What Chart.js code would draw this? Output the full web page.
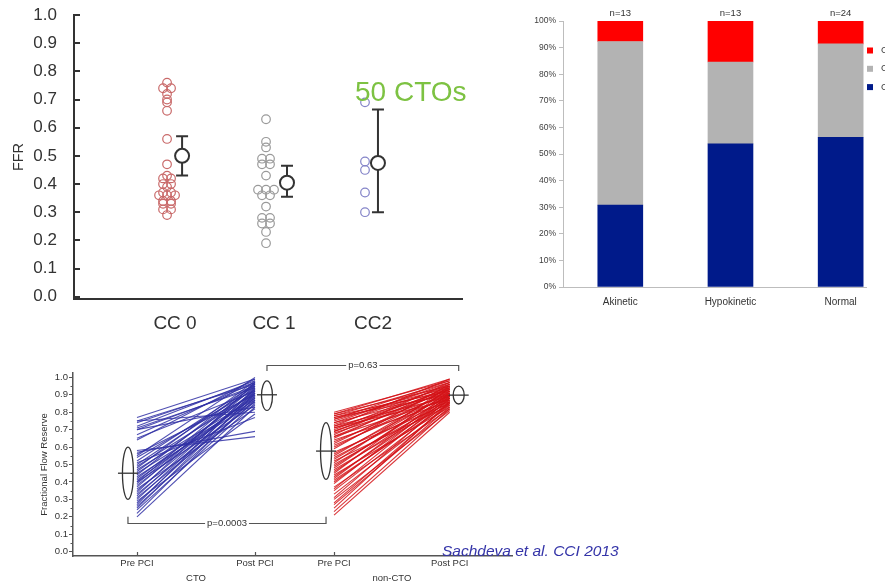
<!DOCTYPE html>
<html>
<head>
<meta charset="utf-8">
<script src="https://cdn.jsdelivr.net/npm/chart.js@4"></script>
<style>
  html, body { margin: 0; padding: 0; background: #fff; }
  body { width: 885px; height: 586px; position: relative; overflow: hidden;
         font-family: "Liberation Sans", Arial, sans-serif; }
  canvas { position: absolute; }
  #ffrChart { left: 0; top: 0; }
  #wallChart { left: 510px; top: 0; }
  #pciChart { left: 0; top: 360px; }
  .note { position: absolute; white-space: nowrap; }
  #ctos { left: 355px; top: 77px; font-size: 28px; line-height: 30px; color: #7dc242; }
  #cite { left: 442px; top: 542px; font-size: 15.5px; line-height: 18px; font-style: italic; color: #3434a8; }
</style>
</head>
<body>
<canvas id="ffrChart" width="480" height="340"></canvas>
<canvas id="wallChart" width="400" height="320"></canvas>
<canvas id="pciChart" width="520" height="226"></canvas>
<div class="note" id="ctos">50 CTOs</div>
<div class="note" id="cite">Sachdeva et al. CCI 2013</div>

<script>
// ---------- FFR by collateral grade ----------
const ffrCategories = ['CC 0', 'CC 1', 'CC2'];
const ffrCC0 = [0.76, 0.74, 0.74, 0.72, 0.70, 0.69, 0.66, 0.56, 0.47, 0.43, 0.42, 0.42, 0.40, 0.40,
                0.39, 0.37, 0.37, 0.36, 0.36, 0.36, 0.34, 0.34, 0.33, 0.33, 0.31, 0.31, 0.29];
const ffrCC1 = [0.63, 0.55, 0.53, 0.49, 0.49, 0.47, 0.47, 0.43, 0.38, 0.38, 0.38, 0.36, 0.36,
                0.32, 0.28, 0.28, 0.26, 0.26, 0.23, 0.19];
const ffrCC2 = [0.69, 0.48, 0.45, 0.37, 0.30];
const ffrMean = [0.50, 0.405, 0.475];
const ffrLow  = [0.43, 0.355, 0.30];
const ffrHigh = [0.57, 0.465, 0.665];
const ffrTicks = [0.0, 0.1, 0.2, 0.3, 0.4, 0.5, 0.6, 0.7, 0.8, 0.9, 1.0];

// ---------- Wall motion vs collateral grade (percent of lesions) ----------
const wallCategories = ['Akinetic', 'Hypokinetic', 'Normal'];
const wallCounts = ['n=13', 'n=13', 'n=24'];
const wallCC0 = [30.8, 53.8, 56.3];
const wallCC1 = [61.5, 30.8, 35.1];
const wallCC2 = [7.7, 15.4, 8.6];
const wallTicks = [0, 10, 20, 30, 40, 50, 60, 70, 80, 90, 100];

// ---------- FFR before and after PCI ----------
const pciColumns = ['Pre PCI', 'Post PCI', 'Pre PCI', 'Post PCI'];
const pciGroups = ['CTO', 'non-CTO'];
const ctoPre  = [0.77, 0.75, 0.75, 0.74, 0.72, 0.71, 0.70, 0.70, 0.67, 0.65, 0.64,
                 0.58, 0.57, 0.56, 0.55, 0.54, 0.52, 0.51, 0.50, 0.49, 0.48,
                 0.47, 0.46, 0.45, 0.44, 0.43, 0.42, 0.41, 0.40, 0.40, 0.39,
                 0.38, 0.37, 0.36, 0.35, 0.34, 0.33, 0.32, 0.31, 0.30, 0.29,
                 0.28, 0.27, 0.26, 0.25, 0.24, 0.22, 0.20];
const ctoPost = [0.99, 0.96, 0.80, 0.97, 0.98, 0.94, 0.83, 0.95, 0.97, 0.92, 0.99,
                 0.66, 0.69, 0.90, 1.00, 0.93, 0.96, 0.77, 0.95, 0.91, 0.98,
                 0.88, 0.94, 0.87, 0.97, 0.86, 0.92, 0.89, 0.96, 0.84, 0.93,
                 0.90, 0.95, 0.82, 0.91, 0.97, 0.88, 0.93, 0.86, 0.92, 0.79,
                 0.90, 0.94, 0.87, 0.91, 0.85, 0.89, 0.83];
const nonCtoPre  = [0.80, 0.79, 0.79, 0.78, 0.78, 0.77, 0.77, 0.76, 0.76, 0.75,
                    0.74, 0.74, 0.73, 0.72, 0.72, 0.71, 0.71, 0.70, 0.69, 0.69,
                    0.68, 0.67, 0.66, 0.66, 0.65, 0.64, 0.63, 0.62, 0.61, 0.60,
                    0.59, 0.57, 0.56, 0.55, 0.54, 0.53, 0.52, 0.51, 0.50, 0.49,
                    0.48, 0.47, 0.46, 0.45, 0.44, 0.43, 0.42, 0.41, 0.40, 0.39,
                    0.37, 0.36, 0.35, 0.33, 0.31, 0.30, 0.28, 0.27, 0.25, 0.23,
                    0.21];
const nonCtoPost = [0.98, 0.95, 0.99, 0.92, 0.97, 0.94, 0.90, 0.98, 0.93, 0.96,
                    0.91, 0.97, 0.95, 0.89, 0.99, 0.93, 0.87, 0.96, 0.92, 0.94,
                    0.90, 0.97, 0.88, 0.93, 0.95, 0.86, 0.91, 0.94, 0.89, 0.92,
                    0.96, 0.85, 0.90, 0.93, 0.88, 0.91, 0.84, 0.95, 0.87, 0.90,
                    0.92, 0.86, 0.89, 0.94, 0.83, 0.88, 0.91, 0.85, 0.87, 0.90,
                    0.82, 0.89, 0.86, 0.84, 0.88, 0.81, 0.85, 0.83, 0.86, 0.82,
                    0.80];
const pciMean = [0.45, 0.90, 0.577, 0.898];
const pciLow  = [0.30, 0.81, 0.415, 0.847];
const pciHigh = [0.60, 0.98, 0.74, 0.95];
const pciTests = [
  { label: 'p=0.0003', from: 0, to: 2 },
  { label: 'p=0.63',   from: 1, to: 3 }
];
const pciTicks = [0.0, 0.1, 0.2, 0.3, 0.4, 0.5, 0.6, 0.7, 0.8, 0.9, 1.0];

// ---------- shared look ----------
const FONT = '"Liberation Sans", Arial, sans-serif';
Chart.defaults.font.family = FONT;
Chart.defaults.animation = false;
Chart.defaults.responsive = false;
Chart.defaults.plugins.legend.display = false;
Chart.defaults.plugins.tooltip.enabled = false;

// ================= Chart 1: FFR dot plot =================
const summaryShift = [0.152, 0.212, 0.131];   // mean marker sits right of the dots

// lay tied values side by side so every circle stays visible
function swarm(values, column, unitPx, gapPx) {
  const sorted = values.slice().sort((a, b) => b - a);
  const out = [];
  let i = 0;
  while (i < sorted.length) {
    let j = i;
    while (j + 1 < sorted.length && Math.abs(sorted[j + 1] - sorted[i]) < 0.005) j++;
    const n = j - i + 1;
    for (let k = 0; k < n; k++) {
      out.push({ x: column + (k - (n - 1) / 2) * gapPx / unitPx, y: sorted[i + k] });
    }
    i = j + 1;
  }
  return out;
}

const ffrGroups = [ffrCC0, ffrCC1, ffrCC2];
const ffrColors = ['#c96a6a', '#9a9a9a', '#8484c8'];

const errorBars = {
  id: 'errorBars',
  beforeDatasetsDraw(chart) {
    const { ctx, scales: { x, y } } = chart;
    ctx.save();
    ctx.strokeStyle = '#333';
    ctx.lineWidth = 2;
    ffrMean.forEach((m, i) => {
      const px = x.getPixelForValue(i + summaryShift[i]);
      const lo = y.getPixelForValue(ffrLow[i]);
      const hi = y.getPixelForValue(ffrHigh[i]);
      ctx.beginPath();
      ctx.moveTo(px, lo); ctx.lineTo(px, hi);
      ctx.moveTo(px - 6, lo); ctx.lineTo(px + 6, lo);
      ctx.moveTo(px - 6, hi); ctx.lineTo(px + 6, hi);
      ctx.stroke();
    });
    ctx.restore();
  }
};

const inwardTicks = {
  id: 'inwardTicks',
  afterDraw(chart) {
    const { ctx, scales: { y }, chartArea } = chart;
    ctx.save();
    ctx.strokeStyle = '#333';
    ctx.lineWidth = 2;
    y.ticks.forEach(t => {
      const py = Math.round(y.getPixelForValue(t.value));
      ctx.beginPath();
      ctx.moveTo(chartArea.left, py);
      ctx.lineTo(chartArea.left + 6, py);
      ctx.stroke();
    });
    ctx.restore();
  }
};

const ffrChart = new Chart(document.getElementById('ffrChart'), {
  type: 'scatter',
  data: {
    datasets: [
      ...ffrGroups.map((g, i) => ({
        label: ffrCategories[i],
        data: g.map(v => ({ x: i, y: v })),
        pointRadius: 4.3,
        pointBorderWidth: 1.2,
        pointBorderColor: ffrColors[i],
        pointBackgroundColor: 'rgba(255,255,255,0)',
        order: 1
      })),
      {
        label: 'mean',
        data: ffrMean.map((m, i) => ({ x: i + summaryShift[i], y: m })),
        pointRadius: 7,
        pointBorderWidth: 2,
        pointBorderColor: '#333',
        pointBackgroundColor: '#fff',
        order: 0
      }
    ]
  },
  options: {
    layout: { padding: { top: 15, right: 18, left: 0, bottom: 0 } },
    scales: {
      x: {
        type: 'linear', min: -0.94, max: 2.98,
        afterBuildTicks: s => { s.ticks = ffrCategories.map((c, i) => ({ value: i })); },
        afterFit: s => { s.height = 41; },
        ticks: { callback: (v, i) => ffrCategories[i], font: { size: 19 }, color: '#333',
                 padding: 13, labelOffset: 8, autoSkip: false, maxRotation: 0 },
        grid: { display: false, drawTicks: false },
        border: { display: true, color: '#333', width: 2 }
      },
      y: {
        min: -0.008, max: 1.0,
        afterBuildTicks: s => { s.ticks = ffrTicks.map(v => ({ value: v })); },
        afterFit: s => { s.width = 74; },
        ticks: { callback: v => v.toFixed(1), font: { size: 17 }, color: '#333', padding: 4 },
        // invisible outer ticks keep the labels clear of the axis
        grid: { display: true, drawOnChartArea: false, drawTicks: true, tickLength: 13, tickColor: 'rgba(0,0,0,0)' },
        border: { display: true, color: '#333', width: 2 },
        title: { display: true, text: 'FFR', font: { size: 14.5 }, color: '#333', padding: { top: 10, bottom: 0 } }
      }
    }
  },
  plugins: [errorBars, inwardTicks]
});

(function spreadDots() {
  const xs = ffrChart.scales.x;
  const unitPx = xs.getPixelForValue(1) - xs.getPixelForValue(0);
  ffrGroups.forEach((g, i) => { ffrChart.data.datasets[i].data = swarm(g, i, unitPx, 8); });
  ffrChart.update('none');
})();

// ================= Chart 2: stacked wall-motion bars =================
const wallColors = ['#001a8a', '#b3b3b3', '#ff0000'];
const wallSeries = [wallCC0, wallCC1, wallCC2];
const wallLabels = ['CC 0', 'CC 1', 'CC 2'];

const countLabels = {
  id: 'countLabels',
  afterDraw(chart) {
    const { ctx, scales: { x }, chartArea } = chart;
    ctx.save();
    ctx.font = '9.5px ' + FONT;
    ctx.fillStyle = '#333';
    ctx.textAlign = 'center';
    ctx.textBaseline = 'middle';
    wallCounts.forEach((t, i) => ctx.fillText(t, x.getPixelForValue(i), chartArea.top - 8));
    ctx.restore();
  }
};

const sideLegend = {
  id: 'sideLegend',
  afterDraw(chart) {
    const { ctx, chartArea } = chart;
    ctx.save();
    ctx.font = '9.5px ' + FONT;
    ctx.textBaseline = 'middle';
    const items = chart.data.datasets.slice().reverse();
    items.forEach((ds, k) => {
      const cy = chartArea.top + 29.5 + k * 18.3;
      const sx = chartArea.right + 1;
      ctx.fillStyle = ds.backgroundColor;
      ctx.fillRect(sx, cy - 3, 6, 6);
      ctx.fillStyle = '#404040';
      ctx.fillText(ds.label, sx + 14, cy);
    });
    ctx.restore();
  }
};

new Chart(document.getElementById('wallChart'), {
  type: 'bar',
  data: {
    datasets: wallSeries.map((s, i) => ({
      label: wallLabels[i],
      data: s.map((v, j) => ({ x: j, y: v })),
      backgroundColor: wallColors[i],
      borderWidth: 0,
      barThickness: 45
    }))
  },
  options: {
    layout: { padding: { top: 21, right: 44, left: 0, bottom: 0 } },
    scales: {
      x: {
        type: 'linear', stacked: true, offset: false, min: -0.52, max: 2.23,
        afterBuildTicks: s => { s.ticks = wallCategories.map((c, i) => ({ value: i })); },
        afterFit: s => { s.height = 33; },
        ticks: { callback: (v, i) => wallCategories[i], font: { size: 10 }, color: '#333',
                 padding: 9, autoSkip: false, maxRotation: 0 },
        grid: { display: false, drawTicks: false },
        border: { display: true, color: '#bdbdbd', width: 1 }
      },
      y: {
        stacked: true, min: 0, max: 100,
        afterBuildTicks: s => { s.ticks = wallTicks.map(v => ({ value: v })); },
        afterFit: s => { s.width = 53; },
        ticks: { callback: v => v + '%', font: { size: 8.5 }, color: '#404040', padding: 3 },
        grid: { drawOnChartArea: false, tickLength: 4, tickColor: '#bdbdbd' },
        border: { display: true, color: '#bdbdbd', width: 1 }
      }
    }
  },
  plugins: [countLabels, sideLegend]
});

// ================= Chart 3: paired pre/post PCI lines =================
const columnX = [0, 1, 1.67, 2.65];          // horizontal place of each column
const markerShift = [-9, 12, -8, 9];         // summary ellipse offset from its column, px

const pairSets = [
  { pre: ctoPre, post: ctoPost, cols: [0, 1], color: 'rgba(48,48,165,0.85)' },
  { pre: nonCtoPre, post: nonCtoPost, cols: [2, 3], color: 'rgba(212,18,22,0.85)' }
];
const pciDatasets = [];
pairSets.forEach(set => {
  set.pre.forEach((v, i) => {
    pciDatasets.push({
      data: [{ x: columnX[set.cols[0]], y: v }, { x: columnX[set.cols[1]], y: set.post[i] }],
      borderColor: set.color,
      borderWidth: 1.1,
      pointRadius: 0,
      fill: false
    });
  });
});

const pciDecor = {
  id: 'pciDecor',
  afterDatasetsDraw(chart) {
    const { ctx, scales: { x, y } } = chart;
    ctx.save();
    // mean ± SD ellipses
    ctx.strokeStyle = '#333';
    ctx.lineWidth = 1.3;
    pciMean.forEach((m, i) => {
      const cx = x.getPixelForValue(columnX[i]) + markerShift[i];
      const top = y.getPixelForValue(pciHigh[i]);
      const bot = y.getPixelForValue(pciLow[i]);
      const my = y.getPixelForValue(m);
      ctx.beginPath();
      ctx.ellipse(cx, (top + bot) / 2, 5.5, (bot - top) / 2, 0, 0, Math.PI * 2);
      ctx.stroke();
      ctx.beginPath();
      ctx.moveTo(cx - 10, my); ctx.lineTo(cx + 10, my);
      ctx.stroke();
    });
    ctx.restore();
  },
  afterDraw(chart) {
    const { ctx, scales: { x, y }, chartArea } = chart;
    ctx.save();
    // minor ticks on the value axis
    ctx.strokeStyle = '#555';
    ctx.lineWidth = 1;
    for (let k = 0; k < pciTicks.length - 1; k++) {
      const py = Math.round((y.getPixelForValue(pciTicks[k]) + y.getPixelForValue(pciTicks[k + 1])) / 2) + 0.5;
      ctx.beginPath(); ctx.moveTo(chartArea.left - 2.5, py); ctx.lineTo(chartArea.left, py); ctx.stroke();
    }
    // inward ticks on the column axis
    ctx.lineWidth = 1.2;
    columnX.forEach(cxv => {
      const px = Math.round(x.getPixelForValue(cxv)) + 0.5;
      ctx.beginPath(); ctx.moveTo(px, chartArea.bottom); ctx.lineTo(px, chartArea.bottom - 4); ctx.stroke();
    });
    // significance brackets
    ctx.font = '9.5px ' + FONT;
    ctx.textAlign = 'center';
    ctx.textBaseline = 'middle';
    const levels = [{ line: 0.165, leg: 0.20 }, { line: 1.07, leg: 1.036 }];
    pciTests.forEach((t, k) => {
      const x1 = x.getPixelForValue(columnX[t.from]) + markerShift[t.from];
      const x2 = x.getPixelForValue(columnX[t.to]) + markerShift[t.to];
      const ly = Math.round(y.getPixelForValue(levels[k].line)) + 0.5;
      const gy = y.getPixelForValue(levels[k].leg);
      ctx.strokeStyle = '#555';
      ctx.lineWidth = 1.2;
      ctx.beginPath();
      ctx.moveTo(x1, gy); ctx.lineTo(x1, ly); ctx.lineTo(x2, ly); ctx.lineTo(x2, gy);
      ctx.stroke();
      const mx = (x1 + x2) / 2;
      const w = ctx.measureText(t.label).width + 4;
      ctx.fillStyle = '#fff';
      ctx.fillRect(mx - w / 2, ly - 5, w, 10);
      ctx.fillStyle = '#333';
      ctx.fillText(t.label, mx, ly);
    });
    // group captions below the column labels
    ctx.fillStyle = '#333';
    pciGroups.forEach((g, k) => {
      const a = x.getPixelForValue(columnX[k * 2]);
      const b = x.getPixelForValue(columnX[k * 2 + 1]);
      ctx.fillText(g, (a + b) / 2, chartArea.bottom + 22);
    });
    ctx.restore();
  }
};

new Chart(document.getElementById('pciChart'), {
  type: 'line',
  data: { datasets: pciDatasets },
  options: {
    layout: { padding: { top: 13, right: 8, left: 0, bottom: 0 } },
    scales: {
      x: {
        type: 'linear', min: -0.542, max: 3.178,
        afterBuildTicks: s => { s.ticks = columnX.map(v => ({ value: v })); },
        afterFit: s => { s.height = 30; },
        ticks: { callback: (v, i) => pciColumns[i], font: { size: 9.5 }, color: '#333',
                 padding: 2, autoSkip: false, maxRotation: 0 },
        grid: { display: false, drawTicks: false },
        border: { display: true, color: '#555', width: 1.5 }
      },
      y: {
        min: -0.025, max: 1.025,
        afterBuildTicks: s => { s.ticks = pciTicks.map(v => ({ value: v })); },
        afterFit: s => { s.width = 73; },
        ticks: { callback: v => v.toFixed(1), font: { size: 9.5 }, color: '#333', padding: 1 },
        grid: { drawOnChartArea: false, tickLength: 4, tickColor: '#555' },
        border: { display: true, color: '#555', width: 1.5 },
        title: { display: true, text: 'Fractional Flow Reserve', font: { size: 9.5 }, color: '#333',
                 padding: { top: 39, bottom: 0 } }
      }
    }
  },
  plugins: [pciDecor]
});
</script>
</body>
</html>
